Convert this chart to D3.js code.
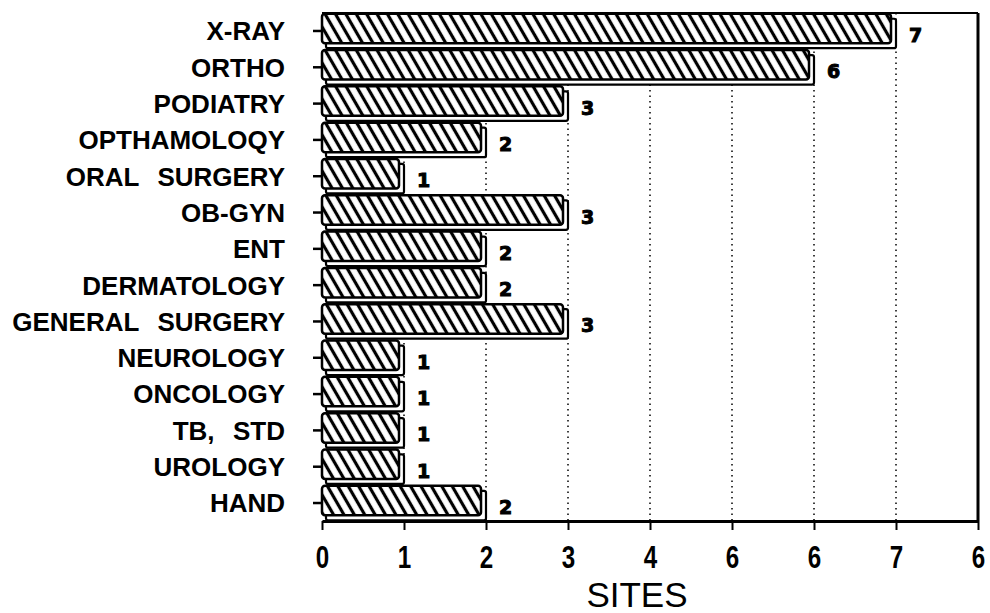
<!DOCTYPE html>
<html>
<head>
<meta charset="utf-8">
<script src="https://cdn.jsdelivr.net/npm/d3@7"></script>
<style>
    body { margin: 0; background: #fff; }
    svg { display: block; }
    .cat { font-family: "Liberation Sans", Arial, sans-serif; font-weight: bold; font-size: 26px; fill: #000; white-space: pre; word-spacing: 2px; }
    .tick-label { font-family: "Liberation Sans", Arial, sans-serif; font-weight: bold; font-size: 31px; fill: #000; }
    .value { font-family: "DejaVu Sans", sans-serif; font-weight: bold; font-size: 19px; fill: #000; stroke: #000; stroke-width: 1px; }
    .title { font-family: "Liberation Sans", Arial, sans-serif; font-size: 35px; fill: #000; }
</style>
</head>
<body>
<svg id="chart"></svg>
<script>
"use strict";

const categories = ['X-RAY', 'ORTHO', 'PODIATRY', 'OPTHAMOLOQY', 'ORAL  SURGERY', 'OB-GYN', 'ENT',
    'DERMATOLOGY', 'GENERAL  SURGERY', 'NEUROLOGY', 'ONCOLOGY', 'TB,  STD', 'UROLOGY', 'HAND'];
const sites = [7, 6, 3, 2, 1, 3, 2, 2, 3, 1, 1, 1, 1, 2];
const value_labels = ['7', '6', '3', '2', '1', '3', '2', '2', '3', '1', '1', '1', '1', '2'];
const tick_values = [0, 1, 2, 3, 4, 5, 6, 7, 8];
const tick_labels = ['0', '1', '2', '3', '4', '6', '6', '7', '6'];
const grid_values = [1, 2, 3, 4, 5, 6, 7];

const width = 990, height = 613;
const margin = {top: 13, right: 12, bottom: 92, left: 322};
const depth = 5;

const svg = d3.select('#chart').attr('width', width).attr('height', height);

const x = d3.scaleLinear().domain([0, 8]).range([margin.left, width - margin.right]);
const y = d3.scaleBand().domain(categories).range([margin.top, height - margin.bottom]).paddingInner(0.05).paddingOuter(0.02);

// hatch pattern, lines leaning like "\"
const defs = svg.append('defs');
defs.append('pattern')
    .attr('id', 'hatch')
    .attr('patternUnits', 'userSpaceOnUse')
    .attr('width', 9).attr('height', 9)
    .attr('patternTransform', 'rotate(-30)')
    .call(p => p.append('rect').attr('width', 9).attr('height', 9).attr('fill', '#fff'))
    .append('line')
    .attr('x1', 4.5).attr('y1', 0).attr('x2', 4.5).attr('y2', 9)
    .attr('stroke', '#000').attr('stroke-width', 3.2);

// dotted grid
svg.append('g')
    .selectAll('line')
    .data(grid_values)
    .join('line')
    .attr('x1', d => x(d)).attr('x2', d => x(d))
    .attr('y1', margin.top).attr('y2', height - margin.bottom)
    .attr('stroke', '#000').attr('stroke-width', 1.5)
    .attr('stroke-dasharray', '1.5,4');

// frame: top and right
svg.append('line')
    .attr('x1', margin.left).attr('x2', width - margin.right)
    .attr('y1', margin.top).attr('y2', margin.top)
    .attr('stroke', '#000').attr('stroke-width', 2);
svg.append('line')
    .attr('x1', width - margin.right).attr('x2', width - margin.right)
    .attr('y1', margin.top).attr('y2', height - margin.bottom)
    .attr('stroke', '#000').attr('stroke-width', 3);

// bottom axis
const xAxis = d3.axisBottom(x)
    .tickValues(tick_values)
    .tickFormat((d, i) => tick_labels[i])
    .tickSizeInner(9)
    .tickSizeOuter(0)
    .tickPadding(16);

const gx = svg.append('g')
    .attr('transform', `translate(0,${height - margin.bottom})`)
    .call(xAxis);
gx.select('.domain').attr('stroke', '#000').attr('stroke-width', 3);
gx.selectAll('.tick line').attr('stroke', '#000').attr('stroke-width', 2);
gx.selectAll('.tick text')
    .attr('class', 'tick-label')
    .attr('font-family', null).attr('font-size', null)
    .attr('dy', '0.71em')
    .attr('transform', 'scale(0.78,1)');

// left axis
const yAxis = d3.axisLeft(y)
    .tickSizeInner(9)
    .tickSizeOuter(0)
    .tickPadding(28);

const gy = svg.append('g')
    .attr('transform', `translate(${margin.left},0)`)
    .call(yAxis);
gy.select('.domain').remove();
gy.selectAll('.tick line').attr('stroke', '#000').attr('stroke-width', 2.5);
gy.selectAll('.tick text')
    .attr('class', 'cat')
    .attr('font-family', null).attr('font-size', null)
    .attr('dy', '0.36em');

// bars: back (depth) then hatched face
const data = categories.map((c, i) => ({cat: c, v: sites[i], label: value_labels[i]}));
const bars = svg.append('g').selectAll('g').data(data).join('g');

bars.append('rect')
    .attr('x', margin.left + depth - 1)
    .attr('y', d => y(d.cat) + depth)
    .attr('width', d => x(d.v) - margin.left - depth + 1)
    .attr('height', y.bandwidth() - depth)
    .attr('rx', 2)
    .attr('fill', '#fff').attr('stroke', '#000').attr('stroke-width', 2.2);

bars.append('rect')
    .attr('x', margin.left)
    .attr('y', d => y(d.cat))
    .attr('width', d => x(d.v) - margin.left - depth)
    .attr('height', y.bandwidth() - depth)
    .attr('rx', 3)
    .attr('fill', 'url(#hatch)').attr('stroke', '#000').attr('stroke-width', 2.5);

bars.append('text')
    .attr('class', 'value')
    .attr('x', d => x(d.v) + 13)
    .attr('y', d => y(d.cat) + y.bandwidth() / 2 + 11)
    .text(d => d.label);

// axis title
svg.append('text')
    .attr('class', 'title')
    .attr('x', (x(0) + x(8)) / 2 - 13)
    .attr('y', height - 6)
    .attr('text-anchor', 'middle')
    .text('SITES');
</script>
</body>
</html>
